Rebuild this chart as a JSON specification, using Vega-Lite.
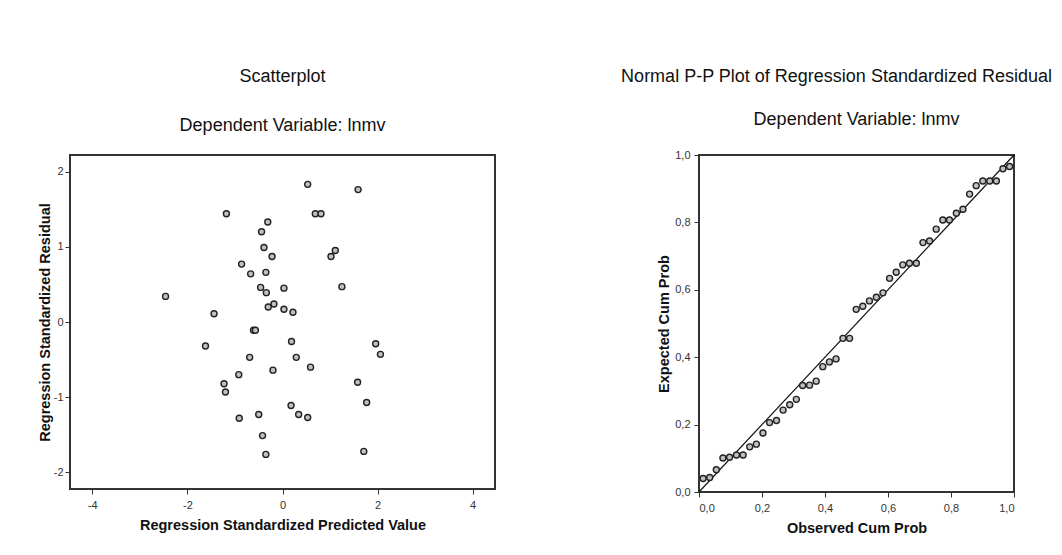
{
  "$schema": "https://vega.github.io/schema/vega-lite/v6.json",
  "background": "white",
  "padding": {"left": 36, "top": 67, "right": 0, "bottom": 0},
  "spacing": 204,
  "bounds": "flush",
  "config": {
    "font": "Liberation Sans",
    "view": {"stroke": "#333333", "strokeWidth": 2},
    "axis": {
      "domain": false, "grid": false, "tickColor": "#333333", "tickSize": 5, "tickWidth": 1,
      "labelFont": "Liberation Sans", "labelFontSize": 11, "labelColor": "#333333",
      "titleFont": "Liberation Sans", "titleFontSize": 14.5, "titleFontWeight": "bold", "titleColor": "#111111"
    },
    "title": {
      "font": "Liberation Sans", "fontSize": 18, "fontWeight": "normal", "color": "#111111",
      "subtitleFont": "Liberation Sans", "subtitleFontSize": 18, "subtitleColor": "#111111", "anchor": "middle"
    }
  },
  "hconcat": [
    {
      "width": 425,
      "height": 334,
      "title": {"text": "Scatterplot", "subtitle": "Dependent Variable: lnmv", "subtitlePadding": 31, "offset": 20, "frame": "group"},
      "data": {"values": [
        {"pred": -2.46, "resid": 0.34}, {"pred": -1.18, "resid": 1.44}, {"pred": -1.44, "resid": 0.11},
        {"pred": -1.62, "resid": -0.32}, {"pred": -0.86, "resid": 0.77}, {"pred": -0.67, "resid": 0.64},
        {"pred": -0.44, "resid": 1.20}, {"pred": -0.31, "resid": 1.33}, {"pred": -0.39, "resid": 0.99},
        {"pred": -0.22, "resid": 0.87}, {"pred": -0.35, "resid": 0.66}, {"pred": -0.46, "resid": 0.46},
        {"pred": -0.34, "resid": 0.39}, {"pred": -0.30, "resid": 0.20}, {"pred": -0.18, "resid": 0.24},
        {"pred": 0.03, "resid": 0.45}, {"pred": 0.03, "resid": 0.17}, {"pred": 0.22, "resid": 0.13},
        {"pred": 0.53, "resid": 1.83}, {"pred": 0.69, "resid": 1.44}, {"pred": 0.81, "resid": 1.44},
        {"pred": 1.02, "resid": 0.87}, {"pred": 1.11, "resid": 0.95}, {"pred": 1.25, "resid": 0.47},
        {"pred": 1.59, "resid": 1.76}, {"pred": -0.61, "resid": -0.11}, {"pred": -0.57, "resid": -0.11},
        {"pred": 0.19, "resid": -0.26}, {"pred": 1.96, "resid": -0.29}, {"pred": 2.06, "resid": -0.43},
        {"pred": -0.69, "resid": -0.47}, {"pred": 0.29, "resid": -0.47}, {"pred": 0.59, "resid": -0.60},
        {"pred": -0.20, "resid": -0.64}, {"pred": -0.92, "resid": -0.70}, {"pred": -1.23, "resid": -0.82},
        {"pred": -1.20, "resid": -0.93}, {"pred": 1.58, "resid": -0.80}, {"pred": 1.77, "resid": -1.07},
        {"pred": 0.18, "resid": -1.11}, {"pred": 0.34, "resid": -1.23}, {"pred": 0.53, "resid": -1.27},
        {"pred": -0.50, "resid": -1.23}, {"pred": -0.91, "resid": -1.28}, {"pred": -0.42, "resid": -1.51},
        {"pred": -0.35, "resid": -1.76}, {"pred": 1.71, "resid": -1.72}
      ]},
      "mark": {"type": "circle", "size": 36, "fill": "#c0c0c0", "stroke": "#222222", "strokeWidth": 1.4, "opacity": 1},
      "encoding": {
        "x": {"field": "pred", "type": "quantitative",
          "scale": {"domain": [-4.47, 4.47], "nice": false, "zero": false},
          "axis": {"values": [-4, -2, 0, 2, 4], "title": "Regression Standardized Predicted Value", "labelPadding": 5, "titlePadding": 8,
            "labelExpr": "'' + datum.value"}},
        "y": {"field": "resid", "type": "quantitative",
          "scale": {"domain": [-2.22, 2.22], "nice": false, "zero": false},
          "axis": {"values": [-2, -1, 0, 1, 2], "title": "Regression Standardized Residual", "labelPadding": 2, "titlePadding": 1,
            "labelExpr": "'' + datum.value"}}
      }
    },
    {
      "title": {"text": "Normal P-P Plot of Regression Standardized Residual", "anchor": "middle", "frame": "bounds", "offset": 24},
      "bounds": "flush",
      "hconcat": [
        {
          "width": 315,
          "height": 337,
          "title": {"text": "Dependent Variable: lnmv", "frame": "group", "offset": 20},
          "layer": [
            {
              "data": {"values": [{"obs": 0, "exp": 0}, {"obs": 1, "exp": 1}]},
              "mark": {"type": "line", "color": "#111111", "strokeWidth": 1.2},
              "encoding": {
                "x": {"field": "obs", "type": "quantitative"},
                "y": {"field": "exp", "type": "quantitative"}
              }
            },
            {
              "data": {"values": [
                {"obs": 0.013, "exp": 0.040}, {"obs": 0.034, "exp": 0.043}, {"obs": 0.055, "exp": 0.066},
                {"obs": 0.076, "exp": 0.101}, {"obs": 0.097, "exp": 0.103}, {"obs": 0.119, "exp": 0.110},
                {"obs": 0.140, "exp": 0.110}, {"obs": 0.161, "exp": 0.134}, {"obs": 0.182, "exp": 0.142},
                {"obs": 0.203, "exp": 0.175}, {"obs": 0.224, "exp": 0.206}, {"obs": 0.246, "exp": 0.212},
                {"obs": 0.267, "exp": 0.243}, {"obs": 0.288, "exp": 0.259}, {"obs": 0.309, "exp": 0.275},
                {"obs": 0.329, "exp": 0.316}, {"obs": 0.351, "exp": 0.317}, {"obs": 0.372, "exp": 0.329},
                {"obs": 0.393, "exp": 0.372}, {"obs": 0.414, "exp": 0.386}, {"obs": 0.435, "exp": 0.395},
                {"obs": 0.457, "exp": 0.456}, {"obs": 0.478, "exp": 0.456}, {"obs": 0.499, "exp": 0.542},
                {"obs": 0.520, "exp": 0.551}, {"obs": 0.541, "exp": 0.567}, {"obs": 0.563, "exp": 0.578},
                {"obs": 0.584, "exp": 0.591}, {"obs": 0.605, "exp": 0.634}, {"obs": 0.626, "exp": 0.652},
                {"obs": 0.647, "exp": 0.674}, {"obs": 0.668, "exp": 0.679}, {"obs": 0.690, "exp": 0.679},
                {"obs": 0.711, "exp": 0.740}, {"obs": 0.732, "exp": 0.745}, {"obs": 0.753, "exp": 0.780},
                {"obs": 0.774, "exp": 0.807}, {"obs": 0.795, "exp": 0.807}, {"obs": 0.817, "exp": 0.827},
                {"obs": 0.838, "exp": 0.839}, {"obs": 0.859, "exp": 0.884}, {"obs": 0.880, "exp": 0.909},
                {"obs": 0.901, "exp": 0.923}, {"obs": 0.923, "exp": 0.923}, {"obs": 0.944, "exp": 0.923},
                {"obs": 0.965, "exp": 0.959}, {"obs": 0.986, "exp": 0.966}
              ]},
              "mark": {"type": "circle", "size": 36, "fill": "#c0c0c0", "stroke": "#222222", "strokeWidth": 1.4, "opacity": 1},
              "encoding": {
                "x": {"field": "obs", "type": "quantitative"},
                "y": {"field": "exp", "type": "quantitative"}
              }
            }
          ],
          "encoding": {
            "x": {"field": "obs", "type": "quantitative",
              "scale": {"domain": [0, 1], "nice": false, "zero": false},
              "axis": {"values": [0, 0.2, 0.4, 0.6, 0.8, 1], "title": "Observed Cum Prob", "labelPadding": 5, "titlePadding": 8,
                "labelExpr": "replace(format(datum.value, '.1f'), '.', ',')"}},
            "y": {"field": "exp", "type": "quantitative",
              "scale": {"domain": [0, 1], "nice": false, "zero": false},
              "axis": {"values": [0, 0.2, 0.4, 0.6, 0.8, 1], "title": "Expected Cum Prob", "labelPadding": 4, "titlePadding": 3,
                "labelExpr": "replace(format(datum.value, '.1f'), '.', ',')"}}
          },
          "resolve": {"scale": {"x": "shared", "y": "shared"}}
        }
      ]
    }
  ],
  "resolve": {"scale": {"x": "independent", "y": "independent"}}
}
